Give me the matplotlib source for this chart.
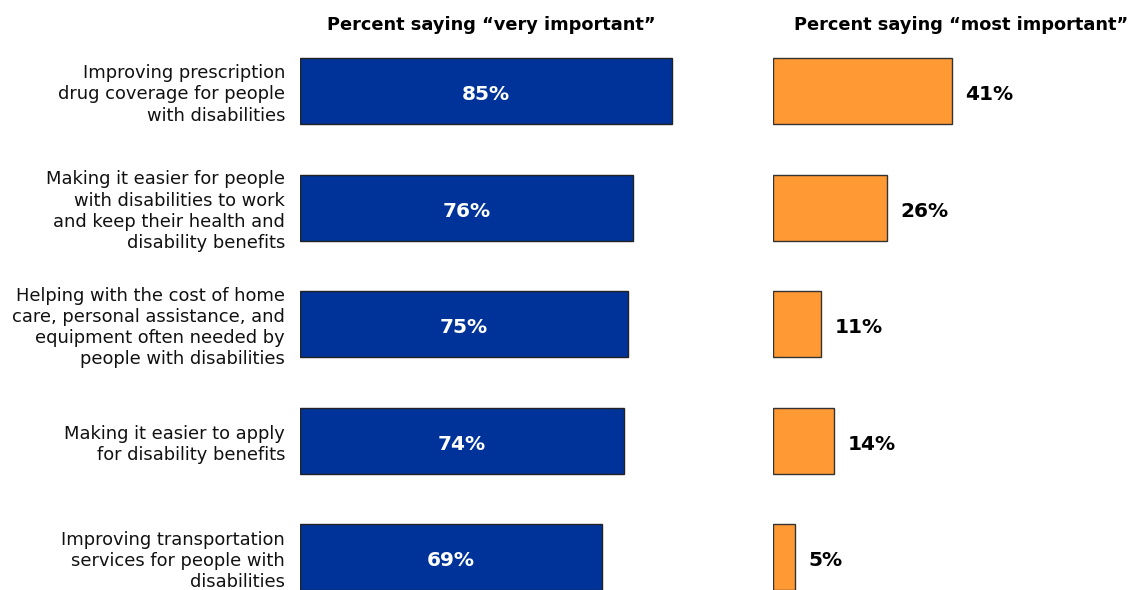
import matplotlib
matplotlib.use("Agg")
import matplotlib.pyplot as plt

# Data
categories = [
    "Improving prescription\ndrug coverage for people\nwith disabilities",
    "Making it easier for people\nwith disabilities to work\nand keep their health and\ndisability benefits",
    "Helping with the cost of home\ncare, personal assistance, and\nequipment often needed by\npeople with disabilities",
    "Making it easier to apply\nfor disability benefits",
    "Improving transportation\nservices for people with\ndisabilities",
]
very_important = [85, 76, 75, 74, 69]
most_important = [41, 26, 11, 14, 5]

W, H = 1130, 590
fig = plt.figure(figsize=(W / 100, H / 100), dpi=100)

# axes placed in pixel coordinates; 4.375 px per percent point
px_per_pct = 4.375
ypos = list(range(len(categories)))
ylim = (4.279, -0.780)
bar_h = 0.566

ax1 = fig.add_axes([300 / W, 0, 100 * px_per_pct / W, 1])
ax2 = fig.add_axes([773 / W, 0, 80 * px_per_pct / W, 1])

ax1.barh(ypos, very_important, height=bar_h, color="#003399",
         edgecolor="#222222", linewidth=1)
ax2.barh(ypos, most_important, height=bar_h, color="#FF9933",
         edgecolor="#333333", linewidth=1)

for ax, xmax in [(ax1, 100), (ax2, 80)]:
    ax.set_xlim(0, xmax)
    ax.set_ylim(*ylim)
    ax.axis("off")

for y, v in zip(ypos, very_important):
    ax1.text(v / 2, y + 0.03, "%d%%" % v, ha="center", va="center",
             color="white", fontsize=14.5, fontweight="bold")
for y, v in zip(ypos, most_important):
    ax2.text(v + 3, y + 0.03, "%d%%" % v, ha="left", va="center",
             color="black", fontsize=14.5, fontweight="bold")

# category labels, right aligned left of the bars
for y, lab in zip(ypos, categories):
    ax1.text(-3.4, y + 0.03, lab, ha="right", va="center", fontsize=12.9,
             linespacing=1.22, color="#111111")

fig.text(491 / W, 1 - 25 / H, "Percent saying \u201cvery important\u201d",
         ha="center", va="center", fontsize=12.8, fontweight="bold")
fig.text(961 / W, 1 - 25 / H, "Percent saying \u201cmost important\u201d",
         ha="center", va="center", fontsize=12.8, fontweight="bold")

fig.savefig("out.png", dpi=100)
